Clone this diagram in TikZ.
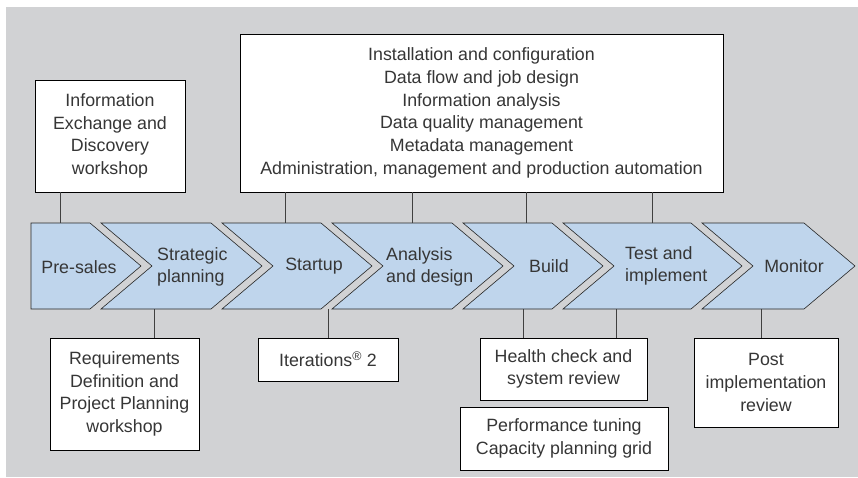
\documentclass[tikz,border=0pt]{standalone}
\usepackage{fontspec}
\setmainfont{Liberation Sans}
\usepackage{tikz}
\usetikzlibrary{positioning}
\definecolor{bggray}{HTML}{D1D2D4}
\definecolor{chevblue}{HTML}{BFD5EC}
\definecolor{textgray}{HTML}{363636}
\tikzset{
  chev/.style={draw=black!85,fill=chevblue,line width=0.6pt,line join=miter},
  box/.style={rectangle,draw=black,fill=white,line width=0.6pt,align=center,inner sep=0pt,text=textgray},
  label/.style={inner sep=0pt,text=textgray},
  link/.style={draw=black!75,line width=0.7pt}
}
\begin{document}
\begin{tikzpicture}[x=1pt,y=-1pt,font=\fontsize{17.8}{22.7}\selectfont]
  \useasboundingbox (0,0) rectangle (858,477);
  \fill[bggray] (6,7) rectangle (858,477);
  \draw[chev] (31,223) -- (90,223) -- (141,266) -- (90,309) -- (31,309) -- cycle;
  \foreach \l/\r in {101/211,222/321,332/452,463/552,563/691,702/804}
    \draw[chev] (\l,223) -- (\r,223) -- (\r+51,266) -- (\r,309) -- (\l,309) -- (\l+51,266) -- cycle;
  \node[label] (presales) at (79,267) {Pre-sales};
  \node[label,anchor=west,align=left] (strategic) at (157,267) {Strategic\\planning};
  \node[label] (startup) at (314,266) {Startup};
  \node[label,anchor=west,align=left] (analysis) at (386,267) {Analysis\\and design};
  \node[label] (build) at (549,266) {Build};
  \node[label,anchor=west,align=left] (test) at (625,266) {Test and\\implement};
  \node[label] (monitor) at (794,266) {Monitor};
  \coordinate (presales n) at (60,223);
  \coordinate (startup n) at (285,223);
  \coordinate (analysis n) at (412,223);
  \coordinate (build n) at (526,223);
  \coordinate (test n) at (652,223);
  \coordinate (strategic s) at (154,309);
  \coordinate (startup s) at (328,309);
  \coordinate (build s) at (523,309);
  \coordinate (test s) at (616,309);
  \coordinate (monitor s) at (761,309);
  \node[box,minimum width=150,minimum height=112] (info) at (110,136) {Information\\Exchange and\\Discovery\\workshop};
  \node[box,minimum width=483,minimum height=158] (tasks) at (481.5,113) {Installation and configuration\\Data flow and job design\\Information analysis\\Data quality management\\Metadata management\\Administration, management and production automation};
  \node[box,minimum width=149,minimum height=112] (req) at (124.5,394) {Requirements\\Definition and\\Project Planning\\workshop};
  \node[box,minimum width=140,minimum height=43] (iter) at (328,359.5) {Iterations\textsuperscript{\textregistered} 2};
  \node[box,minimum width=167,minimum height=62] (health) at (563.5,369) {Health check and\\system review};
  \node[box,minimum width=208,minimum height=63] (perf) at (564,438.5) {Performance tuning\\Capacity planning grid};
  \node[box,minimum width=144,minimum height=89] (post) at (766,382.5) {Post\\implementation\\review};
  \draw[link] (info.south -| presales n) -- (presales n);
  \draw[link] (tasks.south -| startup n) -- (startup n);
  \draw[link] (tasks.south -| analysis n) -- (analysis n);
  \draw[link] (tasks.south -| build n) -- (build n);
  \draw[link] (tasks.south -| test n) -- (test n);
  \draw[link] (strategic s) -- (req.north -| strategic s);
  \draw[link] (startup s) -- (iter.north -| startup s);
  \draw[link] (build s) -- (health.north -| build s);
  \draw[link] (test s) -- (health.north -| test s);
  \draw[link] (monitor s) -- (post.north -| monitor s);
\end{tikzpicture}
\end{document}
